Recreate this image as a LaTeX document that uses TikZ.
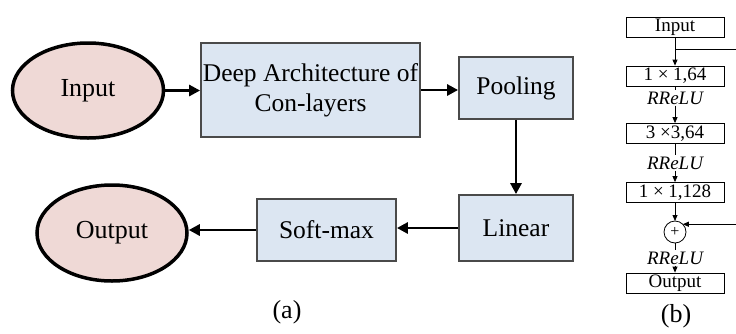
\documentclass[tikz,border=0pt]{standalone}
\usepackage{fontspec}
\setmainfont{Liberation Serif}
\usetikzlibrary{arrows.meta,shapes.geometric}
\definecolor{pinkfill}{HTML}{EFD9D6}
\definecolor{bluefill}{HTML}{DCE6F2}
\definecolor{boxline}{HTML}{4A4A4A}

\begin{document}
\begin{tikzpicture}[x=1pt,y=-1pt,
  oval/.style={ellipse, draw=black, line width=3.5pt, fill=pinkfill, inner sep=0pt,
    font=\fontsize{26}{30}\selectfont},
  blk/.style={draw=boxline, line width=1.8pt, fill=bluefill, inner sep=0pt, align=center,
    font=\fontsize{25.5}{30}\selectfont},
  bigarrow/.style={line width=2.8pt, -{Triangle[length=11pt,width=11pt]}},
  layer/.style={draw=black, line width=0.8pt, minimum width=98pt, minimum height=20pt,
    inner sep=0pt, font=\fontsize{19}{22}\selectfont},
  act/.style={inner sep=1pt, font=\fontsize{19}{22}\selectfont\itshape},
  thinline/.style={line width=0.8pt},
  thinarrow/.style={line width=0.8pt, -{Triangle[length=6pt,width=5pt]}},
  caption/.style={font=\fontsize{26}{30}\selectfont}
]
\useasboundingbox (0,0) rectangle (736,333);

% ---------- (a) pipeline ----------
\node[oval, minimum width=151pt, minimum height=95pt] (in) at (88,90.5) {Input};
\node[blk, minimum width=219pt, minimum height=94pt] (deep) at (310.5,90)
  {Deep Architecture of\\Con-layers};
\node[blk, minimum width=114pt, minimum height=62pt] (pool) at (516,88) {Pooling};
\node[blk, minimum width=114pt, minimum height=66pt] (lin) at (516,228) {Linear};
\node[blk, minimum width=139pt, minimum height=62pt] (soft) at (326.5,230) {Soft-max};
\node[oval, minimum width=150pt, minimum height=96pt] (out) at (112,233) {Output};

\draw[bigarrow] (in.east) -- (in.east -| deep.west);
\draw[bigarrow] (deep.east) -- (deep.east -| pool.west);
\draw[bigarrow] (pool.south) -- (pool.south |- lin.north);
\draw[bigarrow] (lin.west) -- (lin.west -| soft.east);
\draw[bigarrow] (soft.west) -- (soft.west -| out.east);

\node[caption] (capa) at (287,312) {(a)};

% ---------- (b) residual block ----------
\node[layer] (inp) at (675,27) {Input};
\node[layer] (c1) at (675,76) {1 × 1,64};
\node[act] (r1) at (675,98) {RReLU};
\node[layer] (c2) at (675,133.5) {3 ×3,64};
\node[act] (r2) at (675,163) {RReLU};
\node[layer] (c3) at (675,192.5) {1 × 1,128};
\node[circle, draw=black, line width=0.8pt, minimum size=22pt, inner sep=0pt, outer sep=0pt,
  font=\fontsize{16}{18}\selectfont] (plus) at (675,232) {+};
\node[act] (r3) at (675,258) {RReLU};
\node[layer] (outp) at (675,283) {Output};

\coordinate (rim) at (736,0);
\coordinate (split) at (675,49);

\draw[thinarrow] (inp.south) -- (c1.north);
\draw[thinline] (split) -- (split -| rim);
\draw[thinline] (c1.south) -- (r1.north);
\draw[thinarrow] (r1.south) -- (c2.north);
\draw[thinline] (c2.south) -- (r2.north);
\draw[thinarrow] (r2.south) -- (c3.north);
\draw[thinarrow] (c3.south) -- (plus.north);
\draw[thinarrow] (plus.north east -| rim) -- (plus.north east);
\draw[thinline] (plus.south) -- (r3.north);
\draw[thinarrow] (r3.south) -- (outp.north);

\node[caption] (capb) at (676,316) {(b)};
\end{tikzpicture}
\end{document}
